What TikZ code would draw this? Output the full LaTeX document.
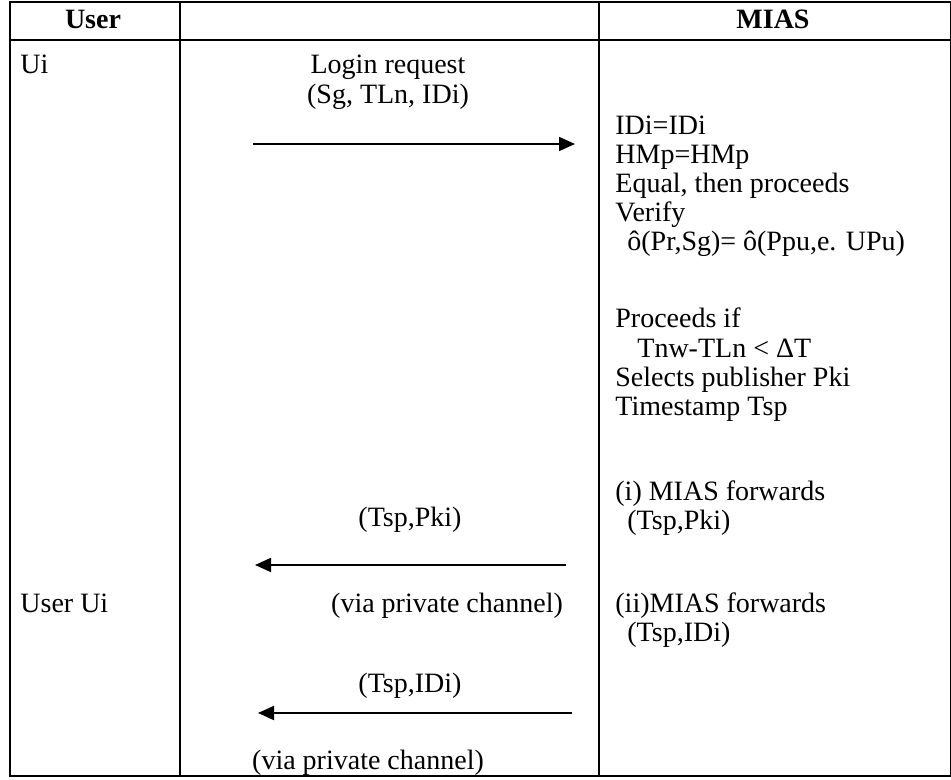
\documentclass[tikz,border=0pt]{standalone}
\usepackage{fontspec}
\setmainfont{Liberation Serif}
\usetikzlibrary{arrows.meta}

\begin{document}
\begin{tikzpicture}[x=0.5pt,y=-0.5pt,
	txt/.style={inner sep=0pt,anchor=base west,font=\fontsize{14}{16}\selectfont},
	mid/.style={inner sep=0pt,anchor=base,font=\fontsize{14}{16}\selectfont},
	head/.style={mid,font=\fontsize{14}{16}\selectfont\bfseries},
	rule/.style={line width=1pt},
	msg/.style={line width=0.9pt,-{Triangle[length=8pt,width=7pt]}}]
	\useasboundingbox (0,0) rectangle (951,780);
	% table
	\draw[rule] (10,2) rectangle (951,776);
	\draw[rule] (10,40)--(951,40);
	\draw[rule] (180,2)--(180,776);
	\draw[rule] (599,2)--(599,776);
	% header row
	\node[head] (huser) at (93,29) {User};
	\node[head] (hmias) at (773,29) {MIAS};
	% user column
	\node[txt] (ui) at (20,74) {Ui};
	\node[txt] (userui) at (20,612) {User Ui};
	% messages
	\node[mid] (login) at (388,74) {Login request};
	\node[mid] (loginarg) at (388,104) {(Sg, TLn, IDi)};
	\coordinate (reqs) at (253,144);
	\coordinate (reqe) at (575,144);
	\draw[msg] (reqs)--(reqe);
	\node[mid] (fwdone) at (410,526) {(Tsp,Pki)};
	\coordinate (fwdones) at (566,565);
	\coordinate (fwdonee) at (255,565);
	\draw[msg] (fwdones)--(fwdonee);
	\node[mid] (viaone) at (447,612) {(via private channel)};
	\node[mid] (fwdtwo) at (410,692) {(Tsp,IDi)};
	\coordinate (fwdtwos) at (572,713);
	\coordinate (fwdtwoe) at (258,713);
	\draw[msg] (fwdtwos)--(fwdtwoe);
	\node[mid] (viatwo) at (368,769) {(via private channel)};
	% MIAS column
	\node[txt] (chkid) at (615,135) {IDi=IDi};
	\node[txt] (chkhm) at (615,164) {HMp=HMp};
	\node[txt] (equal) at (615,193) {Equal, then proceeds};
	\node[txt] (verify) at (615,222) {Verify};
	\node[txt] (pair) at (627,251) {ô(Pr,Sg)= ô(Ppu,e. UPu)};
	\node[txt] (procif) at (615,327) {Proceeds if};
	\node[txt] (tcheck) at (637,357) {Tnw-TLn < ΔT};
	\node[txt] (select) at (615,386) {Selects publisher Pki};
	\node[txt] (stamp) at (615,415) {Timestamp Tsp};
	\node[txt] (mfwdone) at (615,500) {(i) MIAS forwards};
	\node[txt] (mfwdonearg) at (627,529) {(Tsp,Pki)};
	\node[txt] (mfwdtwo) at (615,612) {(ii)MIAS forwards};
	\node[txt] (mfwdtwoarg) at (627,641) {(Tsp,IDi)};
\end{tikzpicture}
\end{document}
